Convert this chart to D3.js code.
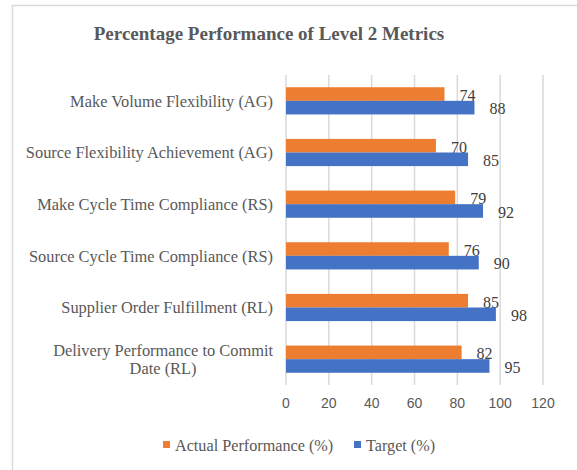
<!DOCTYPE html>
<html>
<head>
<meta charset="utf-8">
<script src="https://cdn.jsdelivr.net/npm/d3@7"></script>
<style>
  body { margin: 0; background: #fff; }
  svg { display: block; }
</style>
</head>
<body>
<div id="chart"></div>
<script>
// data, top to bottom as drawn
const categories = [
  "Make Volume Flexibility (AG)",
  "Source Flexibility Achievement (AG)",
  "Make Cycle Time Compliance (RS)",
  "Source Cycle Time Compliance (RS)",
  "Supplier Order Fulfillment (RL)",
  "Delivery Performance to Commit Date (RL)"
];
const actual = [74, 70, 79, 76, 85, 82];
const target = [88, 85, 92, 90, 98, 95];
const xTicks = [0, 20, 40, 60, 80, 100, 120];
const seriesNames = ["Actual Performance (%)", "Target (%)"];
const colors = ["#ed7d31", "#4472c4"];

const width = 577, height = 470;
const serif = "'Liberation Serif', 'Times New Roman', serif";
const sans = "'Liberation Sans', Arial, sans-serif";
const catSize = "16.4px";

const svg = d3.select("#chart").append("svg")
    .attr("width", width)
    .attr("height", height);

// chart frame (only top and left edges visible in the crop)
svg.append("path")
    .attr("d", "M12.5,470 L12.5,5.5 L577,5.5")
    .attr("fill", "none")
    .attr("stroke", "#d9d9d9")
    .attr("stroke-width", 1.5);

svg.append("text")
    .attr("x", 269)
    .attr("y", 40)
    .attr("text-anchor", "middle")
    .style("font-family", serif)
    .style("font-weight", "bold")
    .style("font-size", "19px")
    .style("fill", "#595959")
    .text("Percentage Performance of Level 2 Metrics");

const x = d3.scaleLinear().domain([0, 120]).range([286, 543]);
const y0 = d3.scaleBand().domain(categories).range([75, 385]).paddingInner(0).paddingOuter(0);
const barH = 13.6;
const y1 = d3.scaleBand().domain([0, 1]).range([0, barH * 2]);

// grid
svg.append("g")
    .selectAll("line")
    .data(xTicks)
    .enter().append("line")
    .attr("x1", d => x(d)).attr("x2", d => x(d))
    .attr("y1", 75).attr("y2", 385)
    .attr("stroke", "#d9d9d9")
    .attr("stroke-width", 1.5);

// x tick labels
svg.append("g")
    .selectAll("text")
    .data(xTicks)
    .enter().append("text")
    .attr("x", d => x(d))
    .attr("y", 408)
    .attr("text-anchor", "middle")
    .style("font-family", sans)
    .style("font-size", "14px")
    .style("fill", "#595959")
    .text(d => d);

const series = [actual, target];

const group = svg.selectAll(".slice")
    .data(series)
    .enter().append("g")
    .attr("class", "slice");

group.selectAll("rect")
    .data((vals, si) => vals.map((v, i) => ({v: v, i: i, s: si})))
    .enter().append("rect")
    .attr("x", x(0))
    .attr("y", d => y0(categories[d.i]) + y0.bandwidth() / 2 - barH + y1(d.s))
    .attr("width", d => x(d.v) - x(0))
    .attr("height", barH)
    .style("fill", d => colors[d.s]);

// value labels
group.selectAll("text")
    .data((vals, si) => vals.map((v, i) => ({v: v, i: i, s: si})))
    .enter().append("text")
    .attr("x", d => x(d.v) + 15)
    .attr("y", d => y0(categories[d.i]) + y0.bandwidth() / 2 - barH + y1(d.s) + 8)
    .attr("dy", "0.35em")
    .style("font-family", serif)
    .style("font-size", "16px")
    .style("fill", "#404040")
    .text(d => d.v);

// category labels, wrapped like Excel for the long one
const catLines = {
  "Delivery Performance to Commit Date (RL)": ["Delivery Performance to Commit", "Date (RL)"]
};
const catG = svg.append("g");
categories.forEach(c => {
  const lines = catLines[c] || [c];
  const cy = y0(c) + y0.bandwidth() / 2;
  const lh = 18;
  const t = catG.append("text")
      .style("font-family", serif)
      .style("font-size", catSize)
      .style("fill", "#595959");
  if (lines.length === 1) {
    t.attr("x", 273).attr("y", cy).attr("dy", "0.35em")
        .attr("text-anchor", "end").text(c);
  } else {
    lines.forEach(ln => t.append("tspan").text(ln));
    // measure longest line so the block is centred and right edge sits at 273
    const tmp = catG.append("text").style("font-family", serif).style("font-size", catSize).text(lines[0]);
    const w = tmp.node().getComputedTextLength();
    tmp.remove();
    const cx = 273 - w / 2;
    t.attr("text-anchor", "middle");
    t.selectAll("tspan")
        .attr("x", cx)
        .attr("y", (d, k) => cy + (k - (lines.length - 1) / 2) * lh)
        .attr("dy", "0.35em");
  }
});

// legend
const legX = [163, 354];
const leg = svg.append("g");
seriesNames.forEach((n, i) => {
  leg.append("rect")
      .attr("x", legX[i]).attr("y", 441)
      .attr("width", 7).attr("height", 7)
      .style("fill", colors[i]);
  leg.append("text")
      .attr("x", legX[i] + 12).attr("y", 445)
      .attr("dy", "0.35em")
      .style("font-family", serif)
      .style("font-size", "16.2px")
      .style("fill", "#595959")
      .text(n);
});
</script>
</body>
</html>
